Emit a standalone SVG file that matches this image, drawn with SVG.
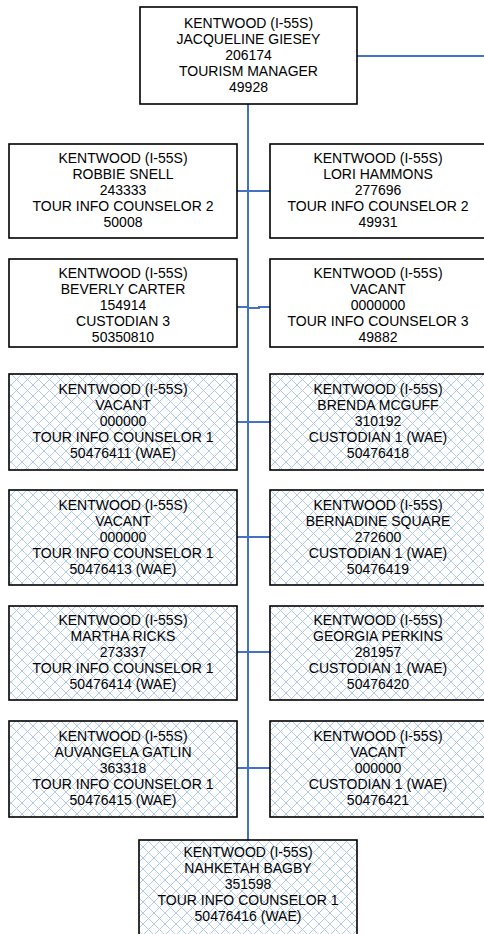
<svg xmlns="http://www.w3.org/2000/svg" width="484" height="934" viewBox="0 0 484 934">
  <style>
    .box { stroke: #000; stroke-width: 1.6; }
    .plain { fill: #fff; }
    .hatch { fill: url(#lattice); }
    .lbl { font-family: "Liberation Sans", Arial, sans-serif; font-size: 14px; fill: #000; text-anchor: middle; }
    .wire { fill: none; stroke: #4472c4; stroke-width: 2; }
  </style>
  <defs>
    <!-- light blue diagonal cross-hatch used for WAE positions -->
    <pattern id="lattice" patternUnits="userSpaceOnUse" width="11" height="11">
      <rect width="11" height="11" fill="#fff"/>
      <path d="M0 0L11 11M11 0L0 11" stroke="#b3caef" stroke-width="1" fill="none"/>
    </pattern>
  </defs>
  <rect width="484" height="934" fill="#fff"/>

  <!-- connectors -->
  <g id="connectors">
    <path class="wire" d="M357 56H486"/>
    <path class="wire" d="M248 104V840"/>
    <path class="wire" d="M237 191H270"/>
    <path class="wire" d="M237 307H248"/>
    <path class="wire" d="M248 308H259V307H270"/>
    <path class="wire" d="M237 422H270"/>
    <path class="wire" d="M237 537H270"/>
    <path class="wire" d="M237 652H270"/>
    <path class="wire" d="M237 768H270"/>
  </g>

  <g id="n-giesey">
    <rect class="box plain" x="140" y="7" width="217" height="97"/>
    <text class="lbl" x="248.5" y="28">KENTWOOD (I-55S)</text>
    <text class="lbl" x="248.5" y="44">JACQUELINE GIESEY</text>
    <text class="lbl" x="248.5" y="60">206174</text>
    <text class="lbl" x="248.5" y="76">TOURISM MANAGER</text>
    <text class="lbl" x="248.5" y="92">49928</text>
  </g>

  <g id="n-snell">
    <rect class="box plain" x="9" y="144" width="228" height="94"/>
    <text class="lbl" x="123" y="163">KENTWOOD (I-55S)</text>
    <text class="lbl" x="123" y="179">ROBBIE SNELL</text>
    <text class="lbl" x="123" y="195">243333</text>
    <text class="lbl" x="123" y="211">TOUR INFO COUNSELOR 2</text>
    <text class="lbl" x="123" y="227">50008</text>
  </g>

  <g id="n-hammons">
    <rect class="box plain" x="270" y="144" width="230" height="94"/>
    <text class="lbl" x="378" y="163">KENTWOOD (I-55S)</text>
    <text class="lbl" x="378" y="179">LORI HAMMONS</text>
    <text class="lbl" x="378" y="195">277696</text>
    <text class="lbl" x="378" y="211">TOUR INFO COUNSELOR 2</text>
    <text class="lbl" x="378" y="227">49931</text>
  </g>

  <g id="n-carter">
    <rect class="box plain" x="9" y="259" width="228" height="88"/>
    <text class="lbl" x="123" y="278">KENTWOOD (I-55S)</text>
    <text class="lbl" x="123" y="294">BEVERLY CARTER</text>
    <text class="lbl" x="123" y="310">154914</text>
    <text class="lbl" x="123" y="326">CUSTODIAN 3</text>
    <text class="lbl" x="123" y="342">50350810</text>
  </g>

  <g id="n-vacant-49882">
    <rect class="box plain" x="270" y="259" width="230" height="88"/>
    <text class="lbl" x="378" y="278">KENTWOOD (I-55S)</text>
    <text class="lbl" x="378" y="294">VACANT</text>
    <text class="lbl" x="378" y="310">0000000</text>
    <text class="lbl" x="378" y="326">TOUR INFO COUNSELOR 3</text>
    <text class="lbl" x="378" y="342">49882</text>
  </g>

  <g id="n-vacant-411">
    <rect class="box hatch" x="9" y="374" width="228" height="96"/>
    <text class="lbl" x="123" y="394">KENTWOOD (I-55S)</text>
    <text class="lbl" x="123" y="410">VACANT</text>
    <text class="lbl" x="123" y="426">000000</text>
    <text class="lbl" x="123" y="442">TOUR INFO COUNSELOR 1</text>
    <text class="lbl" x="123" y="458">50476411 (WAE)</text>
  </g>

  <g id="n-mcguff">
    <rect class="box hatch" x="270" y="374" width="230" height="96"/>
    <text class="lbl" x="378" y="394">KENTWOOD (I-55S)</text>
    <text class="lbl" x="378" y="410">BRENDA MCGUFF</text>
    <text class="lbl" x="378" y="426">310192</text>
    <text class="lbl" x="378" y="442">CUSTODIAN 1 (WAE)</text>
    <text class="lbl" x="378" y="458">50476418</text>
  </g>

  <g id="n-vacant-413">
    <rect class="box hatch" x="9" y="490" width="228" height="95"/>
    <text class="lbl" x="123" y="510">KENTWOOD (I-55S)</text>
    <text class="lbl" x="123" y="526">VACANT</text>
    <text class="lbl" x="123" y="542">000000</text>
    <text class="lbl" x="123" y="558">TOUR INFO COUNSELOR 1</text>
    <text class="lbl" x="123" y="574">50476413 (WAE)</text>
  </g>

  <g id="n-square">
    <rect class="box hatch" x="270" y="490" width="230" height="95"/>
    <text class="lbl" x="378" y="510">KENTWOOD (I-55S)</text>
    <text class="lbl" x="378" y="526">BERNADINE SQUARE</text>
    <text class="lbl" x="378" y="542">272600</text>
    <text class="lbl" x="378" y="558">CUSTODIAN 1 (WAE)</text>
    <text class="lbl" x="378" y="574">50476419</text>
  </g>

  <g id="n-ricks">
    <rect class="box hatch" x="9" y="606" width="228" height="94"/>
    <text class="lbl" x="123" y="625">KENTWOOD (I-55S)</text>
    <text class="lbl" x="123" y="641">MARTHA RICKS</text>
    <text class="lbl" x="123" y="657">273337</text>
    <text class="lbl" x="123" y="673">TOUR INFO COUNSELOR 1</text>
    <text class="lbl" x="123" y="689">50476414 (WAE)</text>
  </g>

  <g id="n-perkins">
    <rect class="box hatch" x="270" y="606" width="230" height="94"/>
    <text class="lbl" x="378" y="625">KENTWOOD (I-55S)</text>
    <text class="lbl" x="378" y="641">GEORGIA PERKINS</text>
    <text class="lbl" x="378" y="657">281957</text>
    <text class="lbl" x="378" y="673">CUSTODIAN 1 (WAE)</text>
    <text class="lbl" x="378" y="689">50476420</text>
  </g>

  <g id="n-gatlin">
    <rect class="box hatch" x="9" y="721" width="228" height="96"/>
    <text class="lbl" x="123" y="741">KENTWOOD (I-55S)</text>
    <text class="lbl" x="123" y="757">AUVANGELA GATLIN</text>
    <text class="lbl" x="123" y="773">363318</text>
    <text class="lbl" x="123" y="789">TOUR INFO COUNSELOR 1</text>
    <text class="lbl" x="123" y="805">50476415 (WAE)</text>
  </g>

  <g id="n-vacant-421">
    <rect class="box hatch" x="270" y="721" width="230" height="96"/>
    <text class="lbl" x="378" y="741">KENTWOOD (I-55S)</text>
    <text class="lbl" x="378" y="757">VACANT</text>
    <text class="lbl" x="378" y="773">000000</text>
    <text class="lbl" x="378" y="789">CUSTODIAN 1 (WAE)</text>
    <text class="lbl" x="378" y="805">50476421</text>
  </g>

  <g id="n-bagby">
    <rect class="box hatch" x="139" y="840" width="218" height="100"/>
    <text class="lbl" x="248" y="857">KENTWOOD (I-55S)</text>
    <text class="lbl" x="248" y="873">NAHKETAH BAGBY</text>
    <text class="lbl" x="248" y="889">351598</text>
    <text class="lbl" x="248" y="905">TOUR INFO COUNSELOR 1</text>
    <text class="lbl" x="248" y="921">50476416 (WAE)</text>
  </g>
</svg>
